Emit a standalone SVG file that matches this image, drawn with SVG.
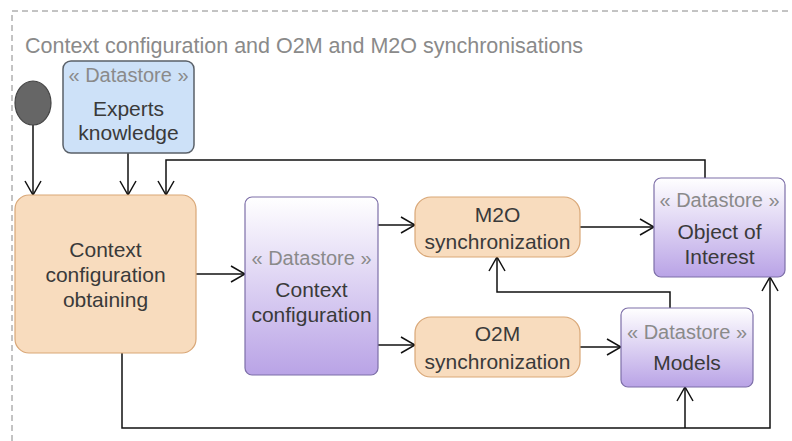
<svg xmlns="http://www.w3.org/2000/svg" width="792" height="441" viewBox="0 0 792 441">
  <defs>
    <linearGradient id="store" x1="0" y1="0" x2="0" y2="1">
      <stop offset="0" stop-color="#ffffff"/>
      <stop offset="1" stop-color="#b9a3e6"/>
    </linearGradient>
    <marker id="arrow" viewBox="0 0 16 18" refX="15" refY="9" markerWidth="16" markerHeight="18" markerUnits="userSpaceOnUse" orient="auto">
      <path d="M1,1 L15,9 L1,17" fill="none" stroke="#111" stroke-width="1.5"/>
    </marker>
    <style>
      text { font-family: "Liberation Sans", Arial, sans-serif; text-anchor: middle; }
      .title { font-size: 21.5px; fill: #8a8a8a; text-anchor: start; }
      .stereo { font-size: 20px; fill: #8a8a8a; }
      .label { font-size: 21px; fill: #3a3a3a; }
      .action { fill: #f8dcbe; stroke: #d9a777; stroke-width: 1.2; }
      .store { fill: url(#store); stroke: #7d6fa8; stroke-width: 1.2; }
      .expert { fill: #cde1f8; stroke: #5a6068; stroke-width: 1.5; }
      .edge { fill: none; stroke: #111; stroke-width: 1.5; marker-end: url(#arrow); }
      .frame { fill: none; stroke: #888; stroke-width: 1; stroke-dasharray: 6 4; }
    </style>
  </defs>

  <rect width="792" height="441" fill="#ffffff"/>

  <!-- activity frame -->
  <path class="frame" d="M12,441 L12,11 L792,11"/>
  <text class="title" x="25" y="53">Context configuration and O2M and M2O synchronisations</text>

  <g id="connectors">
    <path class="edge" d="M33,125 L33,195"/>
    <path class="edge" d="M128,153 L128,195"/>
    <path class="edge" d="M705,178 L705,160 L166,160 L166,195"/>
    <path class="edge" d="M196,274 L245,274"/>
    <path class="edge" d="M378,225 L415,225"/>
    <path class="edge" d="M378,345 L415,345"/>
    <path class="edge" d="M580,227 L654,227"/>
    <path class="edge" d="M580,347 L621,347"/>
    <path class="edge" d="M670,308 L670,292 L497,292 L497,257"/>
    <path class="edge" d="M122,353 L122,428 L770,428 L770,277"/>
    <path class="edge" d="M685,428 L685,387"/>
  </g>

  <g id="start">
    <ellipse cx="33" cy="103" rx="18" ry="22" fill="#666" stroke="#444" stroke-width="1.2"/>
  </g>

  <g id="experts-knowledge">
    <rect class="expert" x="63" y="61" width="131" height="92" rx="8"/>
    <text class="stereo" x="128.5" y="82">« Datastore »</text>
    <text class="label" x="128.5" y="116">Experts</text>
    <text class="label" x="128.5" y="140">knowledge</text>
  </g>

  <g id="context-configuration-obtaining">
    <rect class="action" x="15" y="195" width="181" height="158" rx="14"/>
    <text class="label" x="105.5" y="257">Context</text>
    <text class="label" x="105.5" y="282">configuration</text>
    <text class="label" x="105.5" y="307">obtaining</text>
  </g>

  <g id="context-configuration">
    <rect class="store" x="245" y="197" width="133" height="178" rx="7"/>
    <text class="stereo" x="311.5" y="265">« Datastore »</text>
    <text class="label" x="311.5" y="297">Context</text>
    <text class="label" x="311.5" y="322">configuration</text>
  </g>

  <g id="m2o-synchronization">
    <rect class="action" x="415" y="197" width="165" height="60" rx="16"/>
    <text class="label" x="497.5" y="222">M2O</text>
    <text class="label" x="497.5" y="249">synchronization</text>
  </g>

  <g id="o2m-synchronization">
    <rect class="action" x="415" y="317" width="165" height="60" rx="16"/>
    <text class="label" x="497.5" y="341">O2M</text>
    <text class="label" x="497.5" y="369">synchronization</text>
  </g>

  <g id="object-of-interest">
    <rect class="store" x="654" y="178" width="131" height="99" rx="7"/>
    <text class="stereo" x="719.5" y="207">« Datastore »</text>
    <text class="label" x="719.5" y="239">Object of</text>
    <text class="label" x="719.5" y="264">Interest</text>
  </g>

  <g id="models">
    <rect class="store" x="621" y="308" width="132" height="79" rx="7"/>
    <text class="stereo" x="687" y="339">« Datastore »</text>
    <text class="label" x="687" y="370">Models</text>
  </g>
</svg>
